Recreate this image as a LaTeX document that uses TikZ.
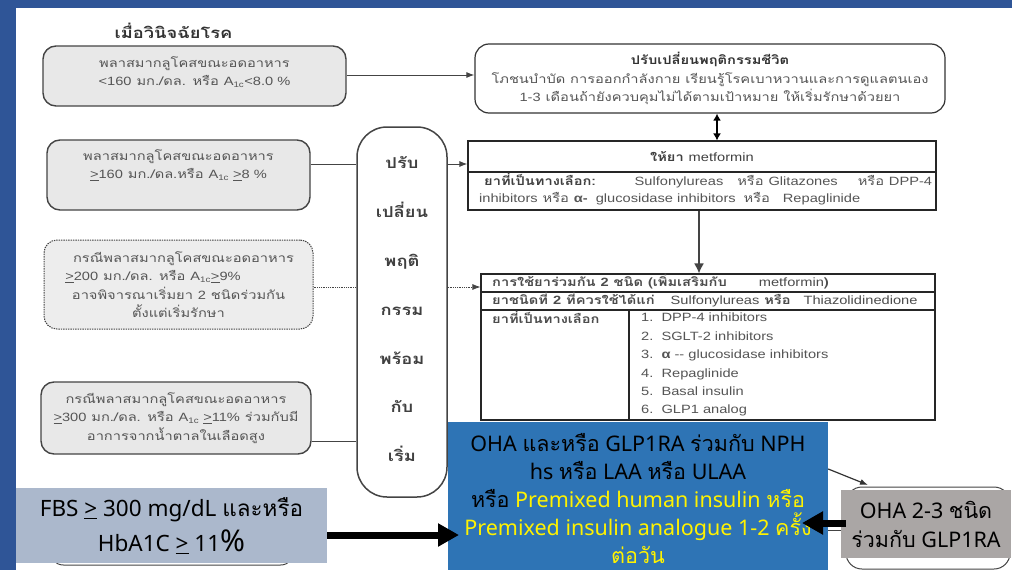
\documentclass[tikz,border=0pt]{standalone}
\usepackage{fontspec}
\setmainfont[Script=Thai,FakeStretch=1.22]{Loma}
\newfontfamily\bth[Script=Thai]{Loma}
\newfontfamily\latf[FakeStretch=1.22]{Liberation Sans}
\newfontfamily\bigf{Noto Sans}
\usetikzlibrary{arrows.meta}
\newcommand{\fs}[2]{\fontsize{#1}{#2}\selectfont}
\newcommand{\geu}{\underline{>}}
\newcommand{\Aic}{A\textsubscript{1c}}
\newcommand{\lm}[1]{{\latf\mdseries #1}}
\definecolor{band}{HTML}{2F5597}
\definecolor{txt}{HTML}{555555}
\definecolor{lin}{HTML}{444444}
\definecolor{fbsc}{HTML}{ABB8CC}
\definecolor{bluec}{HTML}{2E74B5}
\definecolor{ohac}{HTML}{AAA6A5}
\tikzset{
 greybox/.style={draw=lin,line width=1.4pt,fill=black!9,rounded corners=13pt,inner sep=0pt,align=center,text=txt,font=\fs{12}{18.5}},
 tcell/.style={draw=black!85,line width=1.1pt,fill=white,inner sep=0pt},
 lab/.style={text=txt,inner sep=0pt,font=\fs{12}{18.5}},
 conn/.style={draw=lin,line width=1pt},
 arr/.style={conn,-{Latex[length=8pt,width=6pt]}},
 dotconn/.style={draw=lin,line width=.8pt,densely dotted},
 fatarrow/.style={draw=black,line width=7pt,-{Triangle[length=21pt,width=22pt]}},
}
\begin{document}
\begin{tikzpicture}[x=1pt,y=-1pt]
\useasboundingbox (0,0) rectangle (1012,570);
\fill[white] (0,0) rectangle (1012,570);
\fill[band] (0,0) rectangle (1012,8);
\fill[band] (0,0) rectangle (16,570);

\coordinate (ya) at (0,75);
\coordinate (yb) at (0,164);
\coordinate (yc) at (0,287);
\coordinate (yd) at (0,441);
\coordinate (ye) at (0,535);
\coordinate (yg) at (0,531);
\coordinate (tipa) at (802,523);
\coordinate (starta) at (846,523);
\coordinate (tipb) at (459,535);
\coordinate (x1) at (717,0);
\coordinate (x2) at (699,0);
\coordinate (hidarrow) at (868,485);

\node[text=black!80,font=\fs{15}{17}\bfseries,inner sep=0pt] (title) at (173.5,31) {เมื่อวินิจฉัยโรค};

\node[greybox,minimum width=303pt,minimum height=60pt] (b1) at (194.5,76) {พลาสมากลูโคสขณะอดอาหาร\\{\latf <160} มก./ดล. หรือ {\latf\Aic<8.0 \%}\\[-14.5pt]\strut};
\node[greybox,minimum width=263pt,minimum height=70pt] (b2) at (178.5,175) {พลาสมากลูโคสขณะอดอาหาร\\{\latf\geu160} มก./ดล.หรือ {\latf\Aic\ \geu8 \%}\\[-2pt]\strut};
\node[greybox,densely dotted,line width=1pt,fill=black!7,minimum width=269pt,minimum height=89pt] (b3) at (178.5,284.5) {\hspace{10pt}กรณีพลาสมากลูโคสขณะอดอาหาร\\\hspace{-51pt}{\latf\geu200} มก./ดล. หรือ {\latf\Aic\geu9\%}\\อาจพิจารณาเริ่มยา {\latf 2} ชนิดร่วมกัน\\ตั้งแต่เริ่มรักษา};
\node[greybox,minimum width=270pt,minimum height=72pt] (b4) at (176,418) {กรณีพลาสมากลูโคสขณะอดอาหาร\\{\latf\geu300} มก./ดล. หรือ {\latf\Aic\ \geu11\%} ร่วมกับมี\\อาการจากน้ำตาลในเลือดสูง};

\node[draw=lin,line width=1.5pt,fill=white,rounded corners=30pt,minimum width=90pt,minimum height=370pt,inner sep=0pt,align=center,text=black!75,font=\fs{15}{48.8}\bfseries] (pill) at (402,312) {ปรับ\\เปลี่ยน\\พฤติ\\กรรม\\พร้อม\\กับ\\เริ่ม\\[-58pt]\strut};

\node[draw=black!80,line width=1.2pt,fill=white,rounded corners=14pt,minimum width=470pt,minimum height=69pt,inner sep=0pt,align=center,text=txt,font=\fs{12}{18.5}] (life) at (710,78.5) {{\bfseries\color{black!80}ปรับเปลี่ยนพฤติกรรมชีวิต}\\โภชนบำบัด การออกกำลังกาย เรียนรู้โรคเบาหวานและการดูแลตนเอง\\{\latf 1-3} เดือนถ้ายังควบคุมไม่ได้ตามเป้าหมาย ให้เริ่มรักษาด้วยยา};

\node[tcell,minimum width=468pt,minimum height=31pt] (m1) at (702,156.5) {};
\node[tcell,minimum width=468pt,minimum height=38pt] (m2) at (702,191) {};
\node[lab,text=black!75] (m1t) at (m1.center) {\bfseries ให้ยา \lm{metformin}};
\node[lab,anchor=west] (m2a) at (484,180.5) {{\bfseries\color{black!75}ยาที่เป็นทางเลือก:}\hspace{39pt}{\latf Sulfonylureas}\hspace{14pt}หรือ {\latf Glitazones}\hspace{20pt}หรือ {\latf DPP-4}};
\node[lab,anchor=west] (m2b) at (479,199) {{\latf inhibitors} หรือ {\latf\bfseries α-}\hspace{3pt} {\latf glucosidase inhibitors}\hspace{3pt} หรือ \hspace{8pt}{\latf Repaglinide}};

\node[tcell,minimum width=454pt,minimum height=18pt] (t1) at (708,283) {};
\node[tcell,minimum width=454pt,minimum height=18pt] (t2) at (708,301) {};
\node[tcell,minimum width=148pt,minimum height=110pt] (t3) at (555,365) {};
\node[tcell,minimum width=306pt,minimum height=110pt] (t4) at (782,365) {};
\node[lab,anchor=west,text=black!70,font=\fs{12}{12}\bfseries] (t1t) at (492,282) {การใช้ยาร่วมกัน {\latf 2} ชนิด (เพิ่มเสริมกับ\hspace{32pt}\lm{metformin})};
\node[lab,anchor=west,text=black!70,font=\fs{12}{12}\bfseries] (t2t) at (492,300) {ยาชนิดที่ {\latf 2} ที่ควรใช้ได้แก่\hspace{16pt}\lm{Sulfonylureas} หรือ \hspace{8pt}\lm{Thiazolidinedione}};
\node[lab,anchor=west,text=black!70,font=\fs{12}{12}\bfseries] (t3t) at (492,317) {ยาที่เป็นทางเลือก};
\node[lab,anchor=north west,align=left,font=\latf\fs{12}{18.4}] (t4t) at (641,313) {1.\ \ DPP-4 inhibitors\\2.\ \ SGLT-2 inhibitors\\3.\ \ {\bfseries α} -- glucosidase inhibitors\\4.\ \ Repaglinide\\5.\ \ Basal insulin\\6.\ \ GLP1 analog};

% connectors
\draw[arr] (b1.east |- ya) -- (life.west |- ya);
\draw[conn] (b2.east |- yb) -- (pill.west |- yb);
\draw[arr] (pill.east |- yb) -- (m1.west |- yb);
\draw[dotconn] (b3.east |- yc) -- (pill.west |- yc);
\draw[dotconn,-{Latex[length=8pt,width=6pt]}] (pill.east |- yc) -- (t1.west |- yc);
\draw[conn] (b4.east |- yd) -- (pill.west |- yd);
\draw[draw=black,line width=1.4pt,{Latex[length=7pt,width=8pt]}-{Latex[length=7pt,width=8pt]}] (x1 |- life.south) -- (x1 |- m1.north);
\draw[draw=lin,line width=1.6pt,-{Latex[length=10pt,width=10pt]}] (x2 |- m2.south) -- (x2 |- t1.north);

% lower part
\node[draw=lin,line width=1pt,rounded corners=14pt,fill=white,minimum width=245pt,minimum height=30pt] (hid1) at (172,550) {};
\node[draw=lin,line width=1pt,rounded corners=16pt,fill=white,minimum width=164pt,minimum height=82pt] (hid2) at (928,528) {};
\node[fill=fbsc,minimum width=311pt,minimum height=75pt,inner sep=0pt,align=center,text=black,font=\bigf\fs{22.5}{35}] (fbs) at (171.5,525.5) {FBS \geu\ 300 mg/dL {\bth และหรือ}\\HbA1C \geu\ 11{\fs{30}{35}\%}};
\node[fill=bluec,minimum width=380pt,minimum height=148pt,inner sep=0pt,align=center,text=black,font=\bigf\fs{21.5}{28}] (blue) at (638,496) {\strut\\[-24pt]OHA {\bth และหรือ} GLP1RA {\bth ร่วมกับ} NPH\\hs {\bth หรือ} LAA {\bth หรือ} ULAA\\{\bth หรือ} {\color{yellow}Premixed human insulin {\bth หรือ}}\\{\color{yellow}Premixed insulin analogue 1-2 {\bth ครั้ง}}\\{\color{yellow}\bth ต่อวัน}};
\draw[draw=lin,line width=1pt,double] (blue.east |- yg) -- (hid2.west |- yg);
\node[fill=ohac,minimum width=170pt,minimum height=68pt,inner sep=0pt,align=center,text=black,font=\bigf\fs{21.5}{29}] (oha) at (926,524) {OHA 2-3 {\bth ชนิด}\\{\bth ร่วมกับ} GLP1RA};
\draw[arr,line width=1.2pt,draw=black!80] (blue.east |- 0,469) -- (hidarrow);
\draw[fatarrow] (starta) -- (tipa);
\draw[fatarrow] (fbs.east |- ye) -- (tipb);
\end{tikzpicture}
\end{document}
